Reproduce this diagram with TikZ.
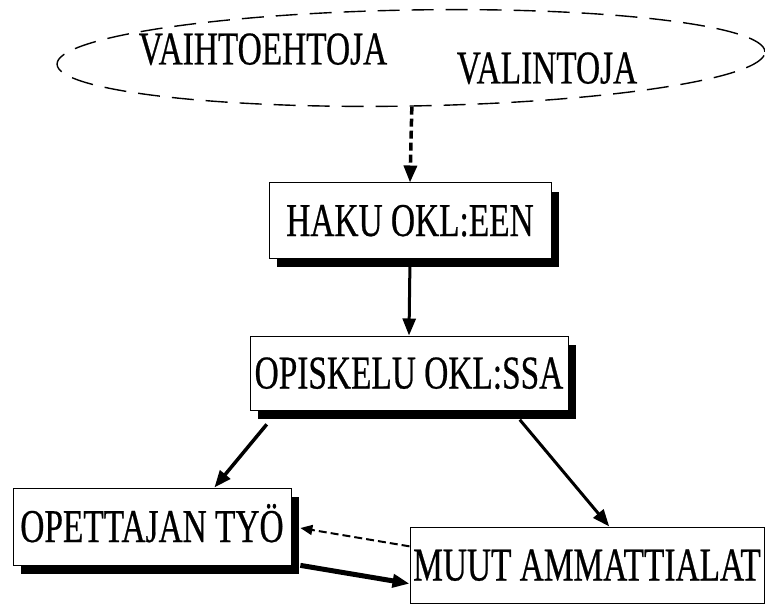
\documentclass[tikz,border=0pt]{standalone}
\usepackage{fontspec}
\setmainfont[FakeStretch=0.71,FakeBold=0.5]{Liberation Serif}
\usetikzlibrary{arrows.meta,shadows,shapes.geometric}
\begin{document}
\begin{tikzpicture}[x=1pt,y=-1pt,>={Triangle[length=17pt,width=13pt]},every node/.style={font=\fontsize{47}{52}\selectfont,text height=31pt,text depth=0pt,inner sep=0pt},b/.style={draw,line width=1pt,fill=white,drop shadow={shadow xshift=8pt,shadow yshift=-9pt,fill=black,opacity=1}},e/.style={ellipse,draw,line width=1.4pt,dash pattern=on 22pt off 12pt,minimum width=708pt,minimum height=96pt}]
\useasboundingbox (0,0) rectangle (765,604);
\node[e,rotate=1] (opts) at (411,58){};
\node (vaiht) at (263,49){VAIHTOEHTOJA};\node (valin) at (547,68){VALINTOJA};
\node[b,minimum width=282pt,minimum height=75pt] (haku) at (410,220.5){HAKU OKL:EEN};
\node[b,minimum width=318pt,minimum height=74pt] (opis) at (409,373){OPISKELU OKL:SSA};
\node[b,minimum width=278pt,minimum height=77pt] (opet) at (152,526.5){OPETTAJAN TYÖ};
\node[b,minimum width=354pt,minimum height=76pt] (muut) at (587,565){MUUT AMMATTIALAT};
\draw[->,line width=3.5pt,dash pattern=on 8pt off 4pt] (opts.south)--(haku.north);
\draw[->,line width=3pt] (haku.south)--(opis.north);
\draw[->,line width=3.5pt,shorten <=18pt] (opis.196.5)--(opet.32);
\draw[->,line width=3pt,shorten <=12pt] (opis.-20.3)--(muut.60);
\draw[->,line width=2pt,dash pattern=on 8pt off 4pt,>={Triangle[length=12pt,width=10pt]},shorten >=9pt] (muut.174)--(opet.0);
\draw[->,line width=5pt,shorten <=9pt] (opet.-15.1)--(muut.186.8);
\end{tikzpicture}
\end{document}
